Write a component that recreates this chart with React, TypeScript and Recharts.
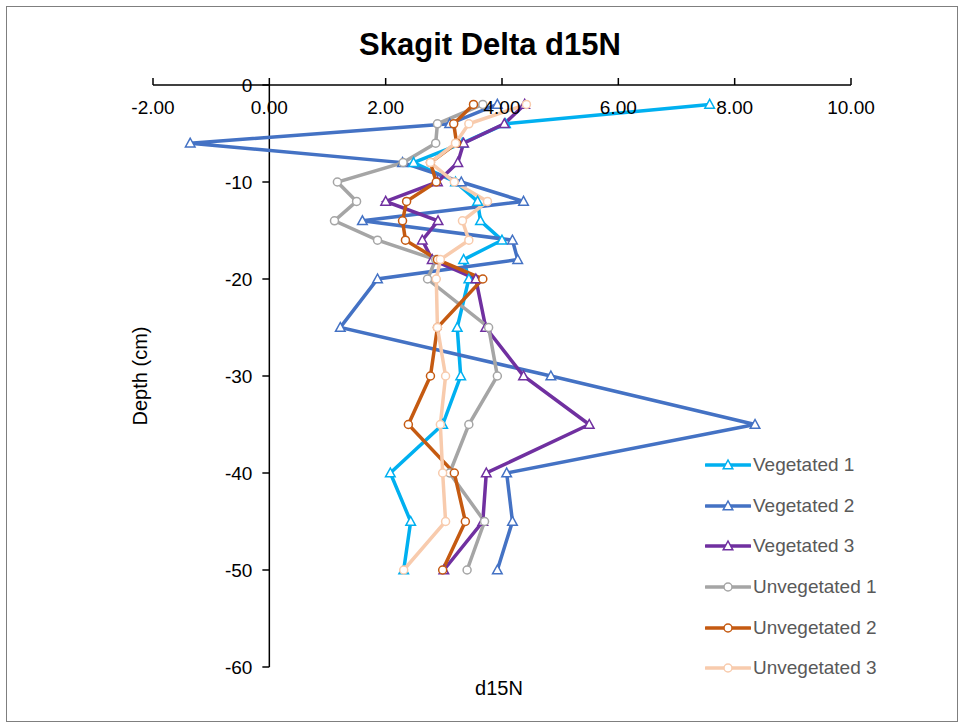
import { LineChart, Line, XAxis, YAxis, ReferenceLine } from 'recharts';

const depths = [-2, -4, -6, -8, -10, -12, -14, -16, -18, -20, -25, -30, -35, -40, -45, -50];
const vegetated1 = [7.57, 4.06, 3.32, 2.48, 3.2, 3.58, 3.63, 4.0, 3.34, 3.43, 3.23, 3.29, 2.98, 2.08, 2.43, 2.31];
const vegetated2 = [3.92, 3.1, -1.36, 2.29, 3.3, 4.37, 1.6, 4.18, 4.27, 1.86, 1.22, 4.84, 8.35, 4.08, 4.18, 3.92];
const vegetated3 = [4.39, 4.04, 3.34, 3.24, 2.89, 2.0, 2.9, 2.63, 2.8, 3.55, 3.72, 4.37, 5.5, 3.73, 3.67, 3.0];
const unvegetated1 = [3.67, 2.89, 2.86, 2.3, 1.17, 1.5, 1.12, 1.86, 2.86, 2.72, 3.77, 3.92, 3.43, 3.1, 3.7, 3.4];
const unvegetated2 = [3.51, 3.17, 3.22, 2.77, 2.87, 2.36, 2.29, 2.34, 2.89, 3.67, 2.89, 2.77, 2.39, 3.18, 3.37, 2.98];
const unvegetated3 = [4.42, 3.43, 3.2, 2.77, 3.18, 3.75, 3.32, 3.43, 2.94, 2.87, 2.89, 3.03, 2.94, 2.98, 3.03, 2.31];

const xTicks = [-2, 0, 2, 4, 6, 8, 10];
const yTicks = [0, -10, -20, -30, -40, -50, -60];

const series = [
  { key: 'v1', name: 'Vegetated 1', color: '#00B0F0', marker: 'tri', values: vegetated1 },
  { key: 'v2', name: 'Vegetated 2', color: '#4472C4', marker: 'tri', values: vegetated2 },
  { key: 'v3', name: 'Vegetated 3', color: '#7030A0', marker: 'tri', values: vegetated3 },
  { key: 'u1', name: 'Unvegetated 1', color: '#A5A5A5', marker: 'circle', values: unvegetated1 },
  { key: 'u2', name: 'Unvegetated 2', color: '#C55A11', marker: 'circle', values: unvegetated2 },
  { key: 'u3', name: 'Unvegetated 3', color: '#F8CBAD', marker: 'circle', values: unvegetated3 },
];

const data = depths.map((depth, i) => {
  const row: Record<string, number> = { depth };
  series.forEach((s) => { row[s.key] = s.values[i]; });
  return row;
});

const FONT = '"Liberation Sans", Arial, Helvetica, sans-serif';

function Marker({ type, color, cx, cy }: { type: string; color: string; cx: number; cy: number }) {
  if (type === 'tri') {
    return (
      <polygon
        points={`${cx},${cy - 5} ${cx - 4.8},${cy + 3.8} ${cx + 4.8},${cy + 3.8}`}
        fill="#fff"
        stroke={color}
        strokeWidth={1.5}
      />
    );
  }
  return <circle cx={cx} cy={cy} r={4} fill="#fff" stroke={color} strokeWidth={1.5} />;
}

const makeDot = (type: string, color: string) => (props: any) => {
  const { cx, cy, index } = props;
  if (cx == null || cy == null) return <g key={index} />;
  return (
    <g key={index}>
      <Marker type={type} color={color} cx={cx} cy={cy} />
    </g>
  );
};

// labels sit under the top axis line, like the Excel original
const XTick = (props: any) => {
  const { x, y, payload } = props;
  return (
    <text x={x} y={y + 36} textAnchor="middle" fontSize={19} fill="#000" fontFamily={FONT}>
      {payload.value.toFixed(2)}
    </text>
  );
};

export default function App() {
  return (
    <div
      style={{
        position: 'relative',
        width: 950,
        height: 714,
        margin: '6px 0 0 6px',
        border: '1px solid #7f7f7f',
        background: '#fff',
        fontFamily: FONT,
      }}
    >
      <style>{'body{margin:0}'}</style>
      <div
        style={{
          position: 'absolute',
          left: 283,
          top: 21,
          width: 400,
          textAlign: 'center',
          fontSize: 31,
          fontWeight: 'bold',
          lineHeight: '34px',
          color: '#000',
        }}
      >
        Skagit Delta d15N
      </div>

      <LineChart
        width={950}
        height={714}
        data={data}
        layout="vertical"
        margin={{ top: 48, right: 106, bottom: 24, left: 120 }}
      >
        <XAxis
          type="number"
          orientation="top"
          domain={[-2, 10]}
          ticks={xTicks}
          tickSize={7}
          tickMargin={0}
          tick={<XTick />}
          stroke="#000"
          strokeWidth={1.5}
          height={30}
        />
        <XAxis
          xAxisId="title"
          type="number"
          orientation="bottom"
          domain={[-2, 10]}
          tick={false}
          axisLine={false}
          tickLine={false}
          height={30}
          label={{ value: 'd15N', position: 'center', dy: 6, dx: -3, fontSize: 20, fill: '#000', fontFamily: FONT }}
        />
        <YAxis
          type="number"
          dataKey="depth"
          domain={[-60, 0]}
          reversed
          tick={false}
          axisLine={false}
          tickLine={false}
          width={26}
          label={{ value: 'Depth (cm)', angle: -90, position: 'center', fontSize: 20, fill: '#000', fontFamily: FONT }}
        />
        <ReferenceLine x={0} stroke="#000" strokeWidth={1.5} ifOverflow="extendDomain" />
        {yTicks.map((t) => (
          <ReferenceLine
            key={t}
            segment={[{ x: -0.12, y: t }, { x: 0, y: t }]}
            stroke="#000"
            strokeWidth={1.5}
            label={{ value: String(t), position: 'left', offset: 10, fontSize: 19, fill: '#000', fontFamily: FONT }}
          />
        ))}
        {series.map((s) => (
          <Line
            key={s.key}
            dataKey={s.key}
            name={s.name}
            type="linear"
            stroke={s.color}
            strokeWidth={3.5}
            dot={makeDot(s.marker, s.color)}
            activeDot={false}
            isAnimationActive={false}
          />
        ))}
      </LineChart>

      <div style={{ position: 'absolute', left: 698, top: 438 }}>
        {series.map((s) => (
          <div key={s.key} style={{ display: 'flex', alignItems: 'center', height: 40.6 }}>
            <svg width={46} height={14} style={{ display: 'block' }}>
              <line x1={1} y1={7} x2={45} y2={7} stroke={s.color} strokeWidth={3.5} strokeLinecap="round" />
              <Marker type={s.marker} color={s.color} cx={23} cy={7} />
            </svg>
            <span style={{ fontSize: 19, color: '#595959', marginLeft: 2, whiteSpace: 'nowrap' }}>{s.name}</span>
          </div>
        ))}
      </div>
    </div>
  );
}
